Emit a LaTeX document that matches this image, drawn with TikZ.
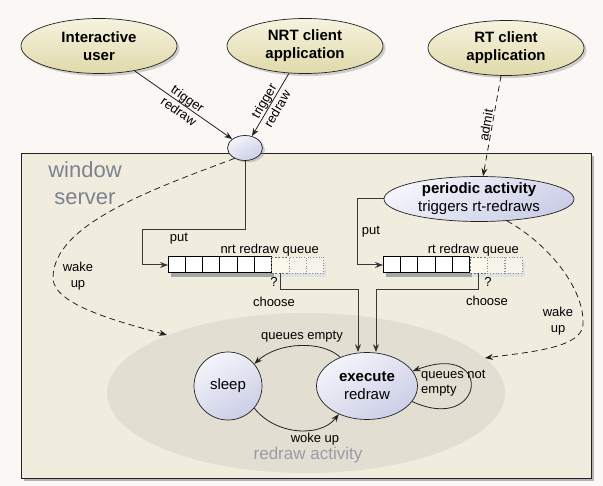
\documentclass[tikz,border=0pt]{standalone}
\usepackage{fontspec}
\setmainfont{Liberation Sans}
\usetikzlibrary{shapes.geometric,arrows.meta,shadows}
\definecolor{bg}{HTML}{FAF7F4}
\definecolor{boxfill}{HTML}{F0EDDF}
\definecolor{actfill}{HTML}{E2DFD2}
\definecolor{beigeT}{HTML}{F6F3DF}
\definecolor{beigeB}{HTML}{E0D9AA}
\definecolor{blueT}{HTML}{F4F4FB}
\definecolor{blueB}{HTML}{CBCEE6}
\definecolor{ink}{HTML}{222222}
\definecolor{titlegray}{HTML}{7D8190}
\definecolor{actgray}{HTML}{9A9BA8}
\definecolor{ghostfill}{HTML}{FBF9EC}
\definecolor{dotfill}{HTML}{F6F4EA}
\begin{document}
\begin{tikzpicture}[x=1pt,y=-1pt,
  lbl/.style={font=\fontsize{13}{15.5}\selectfont, text=black, inner sep=1pt},
  client/.style={ellipse, draw=ink, line width=0.7pt, top color=beigeT, bottom color=beigeB,
    minimum width=156pt, minimum height=55pt, inner sep=0pt, align=center,
    font=\fontsize{15}{18}\selectfont\bfseries,
    drop shadow={shadow xshift=2.5pt, shadow yshift=-2.5pt, opacity=0.35}},
  bluenode/.style={ellipse, draw=ink, line width=0.7pt, top color=blueT, bottom color=blueB,
    shading angle=30, inner sep=0pt, align=center, font=\fontsize{15}{18}\selectfont},
  arr/.style={draw=ink, line width=0.8pt, -{Stealth[length=8pt,width=6pt]}},
  qline/.style={draw=ink!90, line width=1pt, -{Stealth[length=8pt,width=6pt]}},
  dashline/.style={dash pattern=on 6pt off 4pt},
  qcell/.style={draw=black, line width=1pt, fill=white, minimum width=17.3pt,
    minimum height=16pt, inner sep=0pt, outer sep=0pt},
  qghost/.style={qcell, draw=black!55, line width=0.7pt, fill=ghostfill, dash pattern=on 2pt off 1.5pt},
  qdot/.style={qcell, draw=black!45, line width=0.7pt, fill=dotfill, dotted}
]
% background
\fill[bg] (0,0) rectangle (603,486);
\useasboundingbox (0,0) rectangle (603,486);

% window server box
\node[draw=ink, line width=0.8pt, fill=boxfill, minimum width=570pt, minimum height=325pt,
  anchor=north west, inner sep=0pt,
  drop shadow={shadow xshift=3pt, shadow yshift=-3pt, opacity=0.55}] (ws) at (21,153) {};
\node[text=titlegray, font=\fontsize{22}{27}\selectfont, align=center] (wst) at (85,183.5) {window\\server};

% redraw activity area
\node[ellipse, fill=actfill, minimum width=398pt, minimum height=160pt] (act) at (306,393) {};
\node[text=actgray, font=\fontsize{17}{20}\selectfont] (actl) at (308,455) {redraw activity};

% queue shadows
\fill[black!35] (171,262) rectangle (274,277);
\fill[black!12] (274,262) rectangle (326,277);
\fill[black!35] (386,262) rectangle (472,277);
\fill[black!12] (472,262) rectangle (525,277);

% nrt queue
\foreach \i in {1,...,6} \node[qcell] (nq\i) at ({168+17.3*(\i-0.5)},265) {};
\node[qghost] (nq7) at ({168+17.3*6.5},265) {};
\node[qdot] (nq8) at ({168+17.3*7.5},265) {};
\node[qdot] (nq9) at ({168+17.3*8.5},265) {};
% rt queue
\foreach \i in {1,...,5} \node[qcell] (rq\i) at ({383+17.4*(\i-0.5)},265) {};
\node[qghost] (rq6) at ({383+17.4*5.5},265) {};
\node[qdot] (rq7) at ({383+17.4*6.5},265) {};
\node[qdot] (rq8) at ({383+17.4*7.5},265) {};

\node[lbl, anchor=base east] (nql) at (320,254) {nrt redraw queue};
\node[lbl, anchor=base east] (rql) at (520,254) {rt redraw queue};

% client ellipses
\node[client] (iu) at (99,46) {Interactive\\user};
\node[client] (nrt) at (305,46) {NRT client\\application};
\node[client] (rt) at (506,48) {RT client\\application};

% junction
\node[bluenode, minimum width=35pt, minimum height=25pt,
  drop shadow={shadow xshift=2.5pt, shadow yshift=-2pt, opacity=0.35}] (jn) at (245,148) {};

% periodic activity
\node[bluenode, minimum width=190pt, minimum height=45pt, inner ysep=-0.5pt] (pa) at (479,199)
  {\textbf{periodic activity}\\triggers rt-redraws};

% states
\node[bluenode, circle, minimum size=68pt] (sl) at (228,386) {sleep};
\node[bluenode, minimum width=101pt, minimum height=67pt] (ex) at (367,386) {\textbf{execute}\\redraw};

% triggers
\draw[arr] (iu) -- (jn) node[lbl, midway, sloped, align=center] {trigger\\redraw};
\draw[arr] (nrt) -- (jn) node[lbl, midway, sloped, align=center] {trigger\\redraw};
\draw[arr, dashline] (rt) -- (pa) node[lbl, midway, sloped, above] {admit};

% put
\draw[qline] (jn.south) -- (245,230) -- (142,230) |- (nq1.west);
\node[lbl] (put1) at (179,239) {put};
\draw[qline] (pa.west) -- ++(-26,0) |- (rq1.west);
\node[lbl] (put2) at (371,232) {put};

% choose
\draw[qline] (nq7.south) -- ++(0,17) -| ([xshift=-9pt]ex.north);
\node[lbl] (q1) at (274,282) {?};
\node[lbl] (ch1) at (274,302) {choose};
\draw[qline] (rq6.south) -- ++(0,17) -| ([xshift=9pt]ex.north);
\node[lbl] (q2) at (488,282) {?};
\node[lbl] (ch2) at (487,301) {choose};

% wake ups
\coordinate (wl) at (167,335);
\draw[arr, dashline] (jn.225) .. controls (150,190) and (53,225) .. (53,278)
  .. controls (53,305) and (120,322) .. (wl);
\node[lbl, align=center] (wk1) at (78,276) {wake\\up};
\coordinate (wr) at (485,358);
\draw[arr, dashline] (pa.-38) .. controls (550,245) and (585,290) .. (583,325)
  .. controls (581,348) and (530,352) .. (wr);
\node[lbl, align=center] (wk2) at (558,321) {wake\\up};

% state transitions
\draw[arr] (ex.133) .. controls (322,340) and (278,342) .. (sl.40);
\node[lbl] (qe) at (302,337) {queues empty};
\draw[arr] (sl.-40) .. controls (275,435) and (320,438) .. (ex.-135);
\node[lbl] (wu) at (315,439) {woke up};
\draw[arr] (ex.-19) .. controls (485,435) and (495,340) .. (ex.18);
\node[lbl, anchor=west, align=left] (qne) at (420,383) {queues not\\empty};
\end{tikzpicture}
\end{document}
